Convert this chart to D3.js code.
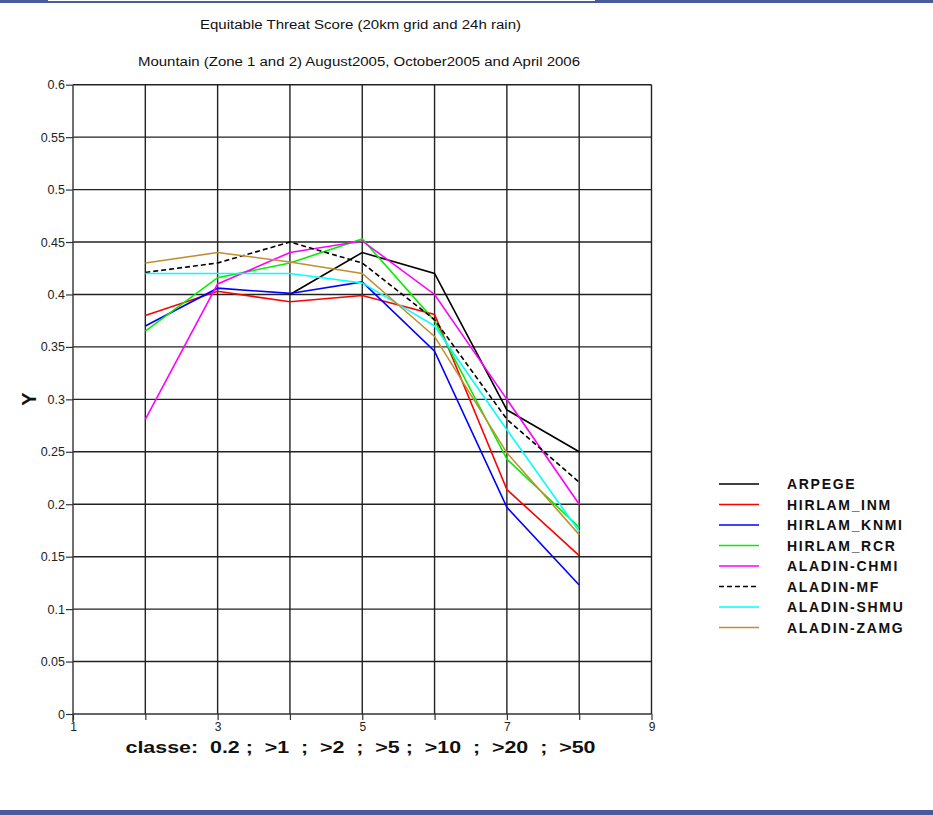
<!DOCTYPE html>
<html>
<head>
<meta charset="utf-8">
<script src="https://cdn.jsdelivr.net/npm/d3@7/dist/d3.min.js"></script>
<style>
html,body{margin:0;padding:0;background:#fff;}
svg{display:block;}
text{font-family:"Liberation Sans",Arial,sans-serif;}
</style>
</head>
<body>
<svg id="chart" width="933" height="815"></svg>
<script>
// ---- data ----
const classes = [2, 3, 4, 5, 6, 7, 8];
const xTickValues = [1, 2, 3, 4, 5, 6, 7, 8, 9];
const xTickLabels = ["1", "", "3", "", "5", "", "7", "", "9"];
const yTickValues = [0, 0.05, 0.1, 0.15, 0.2, 0.25, 0.3, 0.35, 0.4, 0.45, 0.5, 0.55, 0.6];
const yTickLabels = ["0", "0.05", "0.1", "0.15", "0.2", "0.25", "0.3", "0.35", "0.4", "0.45", "0.5", "0.55", "0.6"];
const seriesNames = ["ARPEGE", "HIRLAM_INM", "HIRLAM_KNMI", "HIRLAM_RCR", "ALADIN-CHMI", "ALADIN-MF", "ALADIN-SHMU", "ALADIN-ZAMG"];
const ARPEGE      = [null, null, 0.400, 0.440, 0.420, 0.290, 0.250];
const HIRLAM_INM  = [0.380, 0.403, 0.393, 0.399, 0.381, 0.214, 0.151];
const HIRLAM_KNMI = [0.370, 0.406, 0.401, 0.412, 0.346, 0.197, 0.123];
const HIRLAM_RCR  = [0.365, 0.416, 0.430, 0.453, 0.375, 0.243, 0.178];
const ALADIN_CHMI = [0.281, 0.410, 0.440, 0.451, 0.400, 0.300, 0.200];
const ALADIN_MF   = [0.421, 0.430, 0.450, 0.430, 0.376, 0.281, 0.221];
const ALADIN_SHMU = [0.420, 0.420, 0.420, 0.411, 0.370, 0.271, 0.174];
const ALADIN_ZAMG = [0.430, 0.440, 0.431, 0.420, 0.360, 0.249, 0.171];
const seriesValues = [ARPEGE, HIRLAM_INM, HIRLAM_KNMI, HIRLAM_RCR, ALADIN_CHMI, ALADIN_MF, ALADIN_SHMU, ALADIN_ZAMG];
const titleText = "Equitable Threat Score (20km grid and 24h rain)";
const subtitleText = "Mountain (Zone 1 and 2) August2005, October2005 and April 2006";
const xLabelText = "classe:  0.2 ;  >1  ;  >2  ;  >5 ;  >10  ;  >20  ;  >50";
const yLabelText = "Y";

// ---- styles ----
const colors = ["#000000", "#ff0000", "#0000ff", "#00ee00", "#ff00ff", "#000000", "#00ffff", "#c09030"];
const dashes = [null, null, null, null, null, "5,3", null, null];
const barColor = "#4b5a9c";

const svg = d3.select("#chart");

// frame bars
svg.append("rect").attr("x", 0).attr("y", 0).attr("width", 933).attr("height", 3).attr("fill", barColor);
svg.append("rect").attr("x", 48).attr("y", 0).attr("width", 547).attr("height", 1).attr("fill", "#fff");
svg.append("rect").attr("x", 0).attr("y", 810).attr("width", 933).attr("height", 5).attr("fill", barColor);

const x = d3.scaleLinear().domain([1, 9]).range([73, 651.5]);
const y = d3.scaleLinear().domain([0, 0.6]).range([714, 84.7]);

// titles
svg.append("text").attr("x", 360.5).attr("y", 29).attr("text-anchor", "middle")
  .attr("font-size", 12).attr("fill", "#111").attr("textLength", 321).attr("lengthAdjust", "spacingAndGlyphs")
  .text(titleText);
svg.append("text").attr("x", 359).attr("y", 66).attr("text-anchor", "middle")
  .attr("font-size", 12).attr("fill", "#111").attr("textLength", 442).attr("lengthAdjust", "spacingAndGlyphs")
  .text(subtitleText);

// grid
const grid = svg.append("g").attr("stroke", "#222").attr("stroke-width", 1.4);
yTickValues.forEach(v => {
  if (v === 0) return;
  grid.append("line").attr("x1", x(1)).attr("x2", x(9)).attr("y1", y(v)).attr("y2", y(v));
});
xTickValues.forEach(v => {
  if (v === 1) return;
  grid.append("line").attr("x1", x(v)).attr("x2", x(v)).attr("y1", y(0.6)).attr("y2", y(0));
});

// axes
const yAxis = d3.axisLeft(y).tickValues(yTickValues).tickSize(7).tickPadding(1)
  .tickFormat((d, i) => yTickLabels[i]);
const gy = svg.append("g").attr("transform", `translate(${x(1)},0)`).call(yAxis);
gy.select(".domain").attr("stroke", "#333").attr("stroke-width", 1.4).attr("d", `M0,${y(0.6)}V${y(0) + 8}`);
gy.selectAll(".tick line").attr("stroke", "#333").attr("stroke-width", 1.2);
gy.selectAll(".tick text").attr("font-size", 12.5).attr("fill", "#222").attr("font-family", "Liberation Sans, Arial, sans-serif");

const xAxis = d3.axisBottom(x).tickValues(xTickValues).tickSize(6).tickPadding(2)
  .tickFormat((d, i) => xTickLabels[i]);
const gx = svg.append("g").attr("transform", `translate(0,${y(0)})`).call(xAxis);
gx.select(".domain").attr("stroke", "#333").attr("stroke-width", 1.4).attr("d", `M${x(1)},0H${x(9)}`);
gx.selectAll(".tick line").attr("stroke", "#333").attr("stroke-width", 1.2);
gx.selectAll(".tick text").attr("font-size", 12).attr("fill", "#222").attr("font-family", "Liberation Sans, Arial, sans-serif");

// axis labels
svg.append("text").attr("x", 360.5).attr("y", 753).attr("text-anchor", "middle")
  .attr("font-size", 17).attr("font-weight", "bold").attr("fill", "#111")
  .attr("textLength", 470).attr("lengthAdjust", "spacingAndGlyphs")
  .style("white-space", "pre").text(xLabelText);
svg.append("text").attr("transform", "translate(36,399) rotate(-90)").attr("text-anchor", "middle")
  .attr("font-size", 20).attr("font-weight", "bold").attr("fill", "#111").text(yLabelText);

// series lines
const line = d3.line().defined(d => d.v !== null).x(d => x(d.c)).y(d => y(d.v));
seriesValues.forEach((vals, i) => {
  const pts = classes.map((c, j) => ({c: c, v: vals[j]}));
  svg.append("path").attr("d", line(pts)).attr("fill", "none")
    .attr("stroke", colors[i]).attr("stroke-width", 1.6)
    .attr("stroke-dasharray", dashes[i]);
});

// legend
const lg = svg.append("g");
seriesNames.forEach((name, i) => {
  const cy = 484 + i * 20.5;
  lg.append("line").attr("x1", 719).attr("x2", 759).attr("y1", cy).attr("y2", cy)
    .attr("stroke", colors[i]).attr("stroke-width", 1.6).attr("stroke-dasharray", dashes[i]);
  lg.append("text").attr("x", 787).attr("y", cy + 5).attr("font-size", 14).attr("font-weight", "bold")
    .attr("fill", "#111").attr("letter-spacing", 1.7).text(name);
});
</script>
</body>
</html>
